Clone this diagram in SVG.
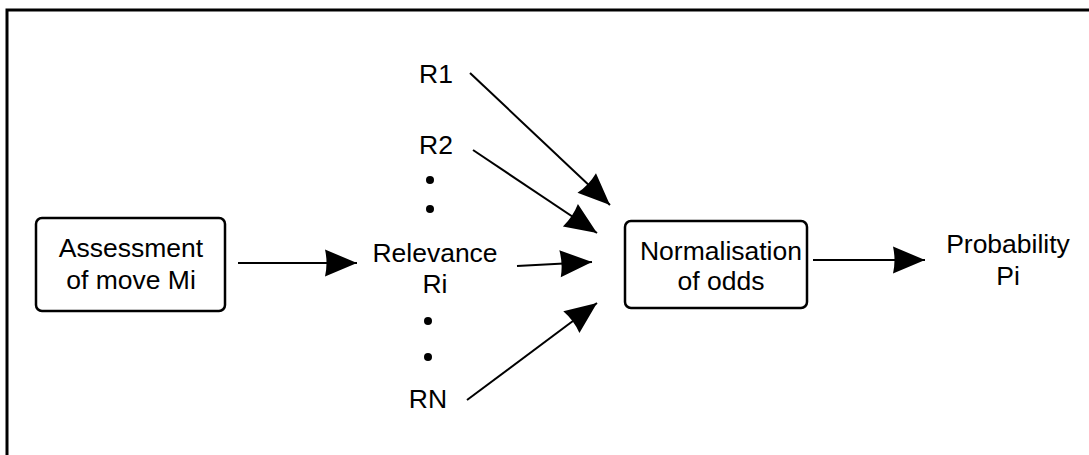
<svg xmlns="http://www.w3.org/2000/svg" width="1089" height="455" viewBox="0 0 1089 455">
<style>
text{font-family:"Liberation Sans",Arial,sans-serif;font-size:26.5px;fill:#000;text-anchor:middle}
.box{fill:#fff;stroke:#000;stroke-width:2.5}
.conn{stroke:#000;stroke-width:2;fill:none;marker-end:url(#ah)}
.dot{fill:#000}
</style>
<defs>
<marker id="ah" markerUnits="userSpaceOnUse" markerWidth="36" markerHeight="30" refX="32" refY="13.5" orient="auto" overflow="visible">
<path d="M0,0 L32,13.5 L0,27 Q3,13.5 0,0 z" fill="#000"/>
</marker>
</defs>
<rect x="7" y="10" width="1100" height="500" fill="#fff" stroke="#000" stroke-width="3"/>
<g id="assessment">
<rect class="box" x="36" y="218" width="189" height="93" rx="6"/>
<text x="131" y="257">Assessment</text>
<text x="131" y="289">of move Mi</text>
</g>
<g id="r1"><text x="436" y="83">R1</text></g>
<g id="r2"><text x="436" y="154">R2</text></g>
<g id="dots-upper"><circle class="dot" cx="430" cy="180" r="4"/><circle class="dot" cx="430" cy="209" r="4"/></g>
<g id="relevance">
<text x="435" y="262">Relevance</text>
<text x="435" y="293">Ri</text>
</g>
<g id="dots-lower"><circle class="dot" cx="428" cy="321" r="4"/><circle class="dot" cx="428" cy="357" r="4"/></g>
<g id="rn"><text x="428" y="408">RN</text></g>
<g id="normalisation">
<rect class="box" x="625" y="221" width="182" height="87" rx="6"/>
<text x="721" y="260">Normalisation</text>
<text x="721" y="290">of odds</text>
</g>
<g id="probability">
<text x="1008" y="253">Probability</text>
<text x="1008" y="285">Pi</text>
</g>
<g id="connectors">
<line class="conn" x1="238" y1="263" x2="357" y2="263"/>
<line class="conn" x1="470" y1="73" x2="610" y2="205"/>
<line class="conn" x1="473" y1="150" x2="597" y2="233"/>
<line class="conn" x1="517" y1="266" x2="592" y2="262"/>
<line class="conn" x1="467" y1="400" x2="597" y2="303"/>
<line class="conn" x1="813" y1="260" x2="925" y2="260"/>
</g>
</svg>
